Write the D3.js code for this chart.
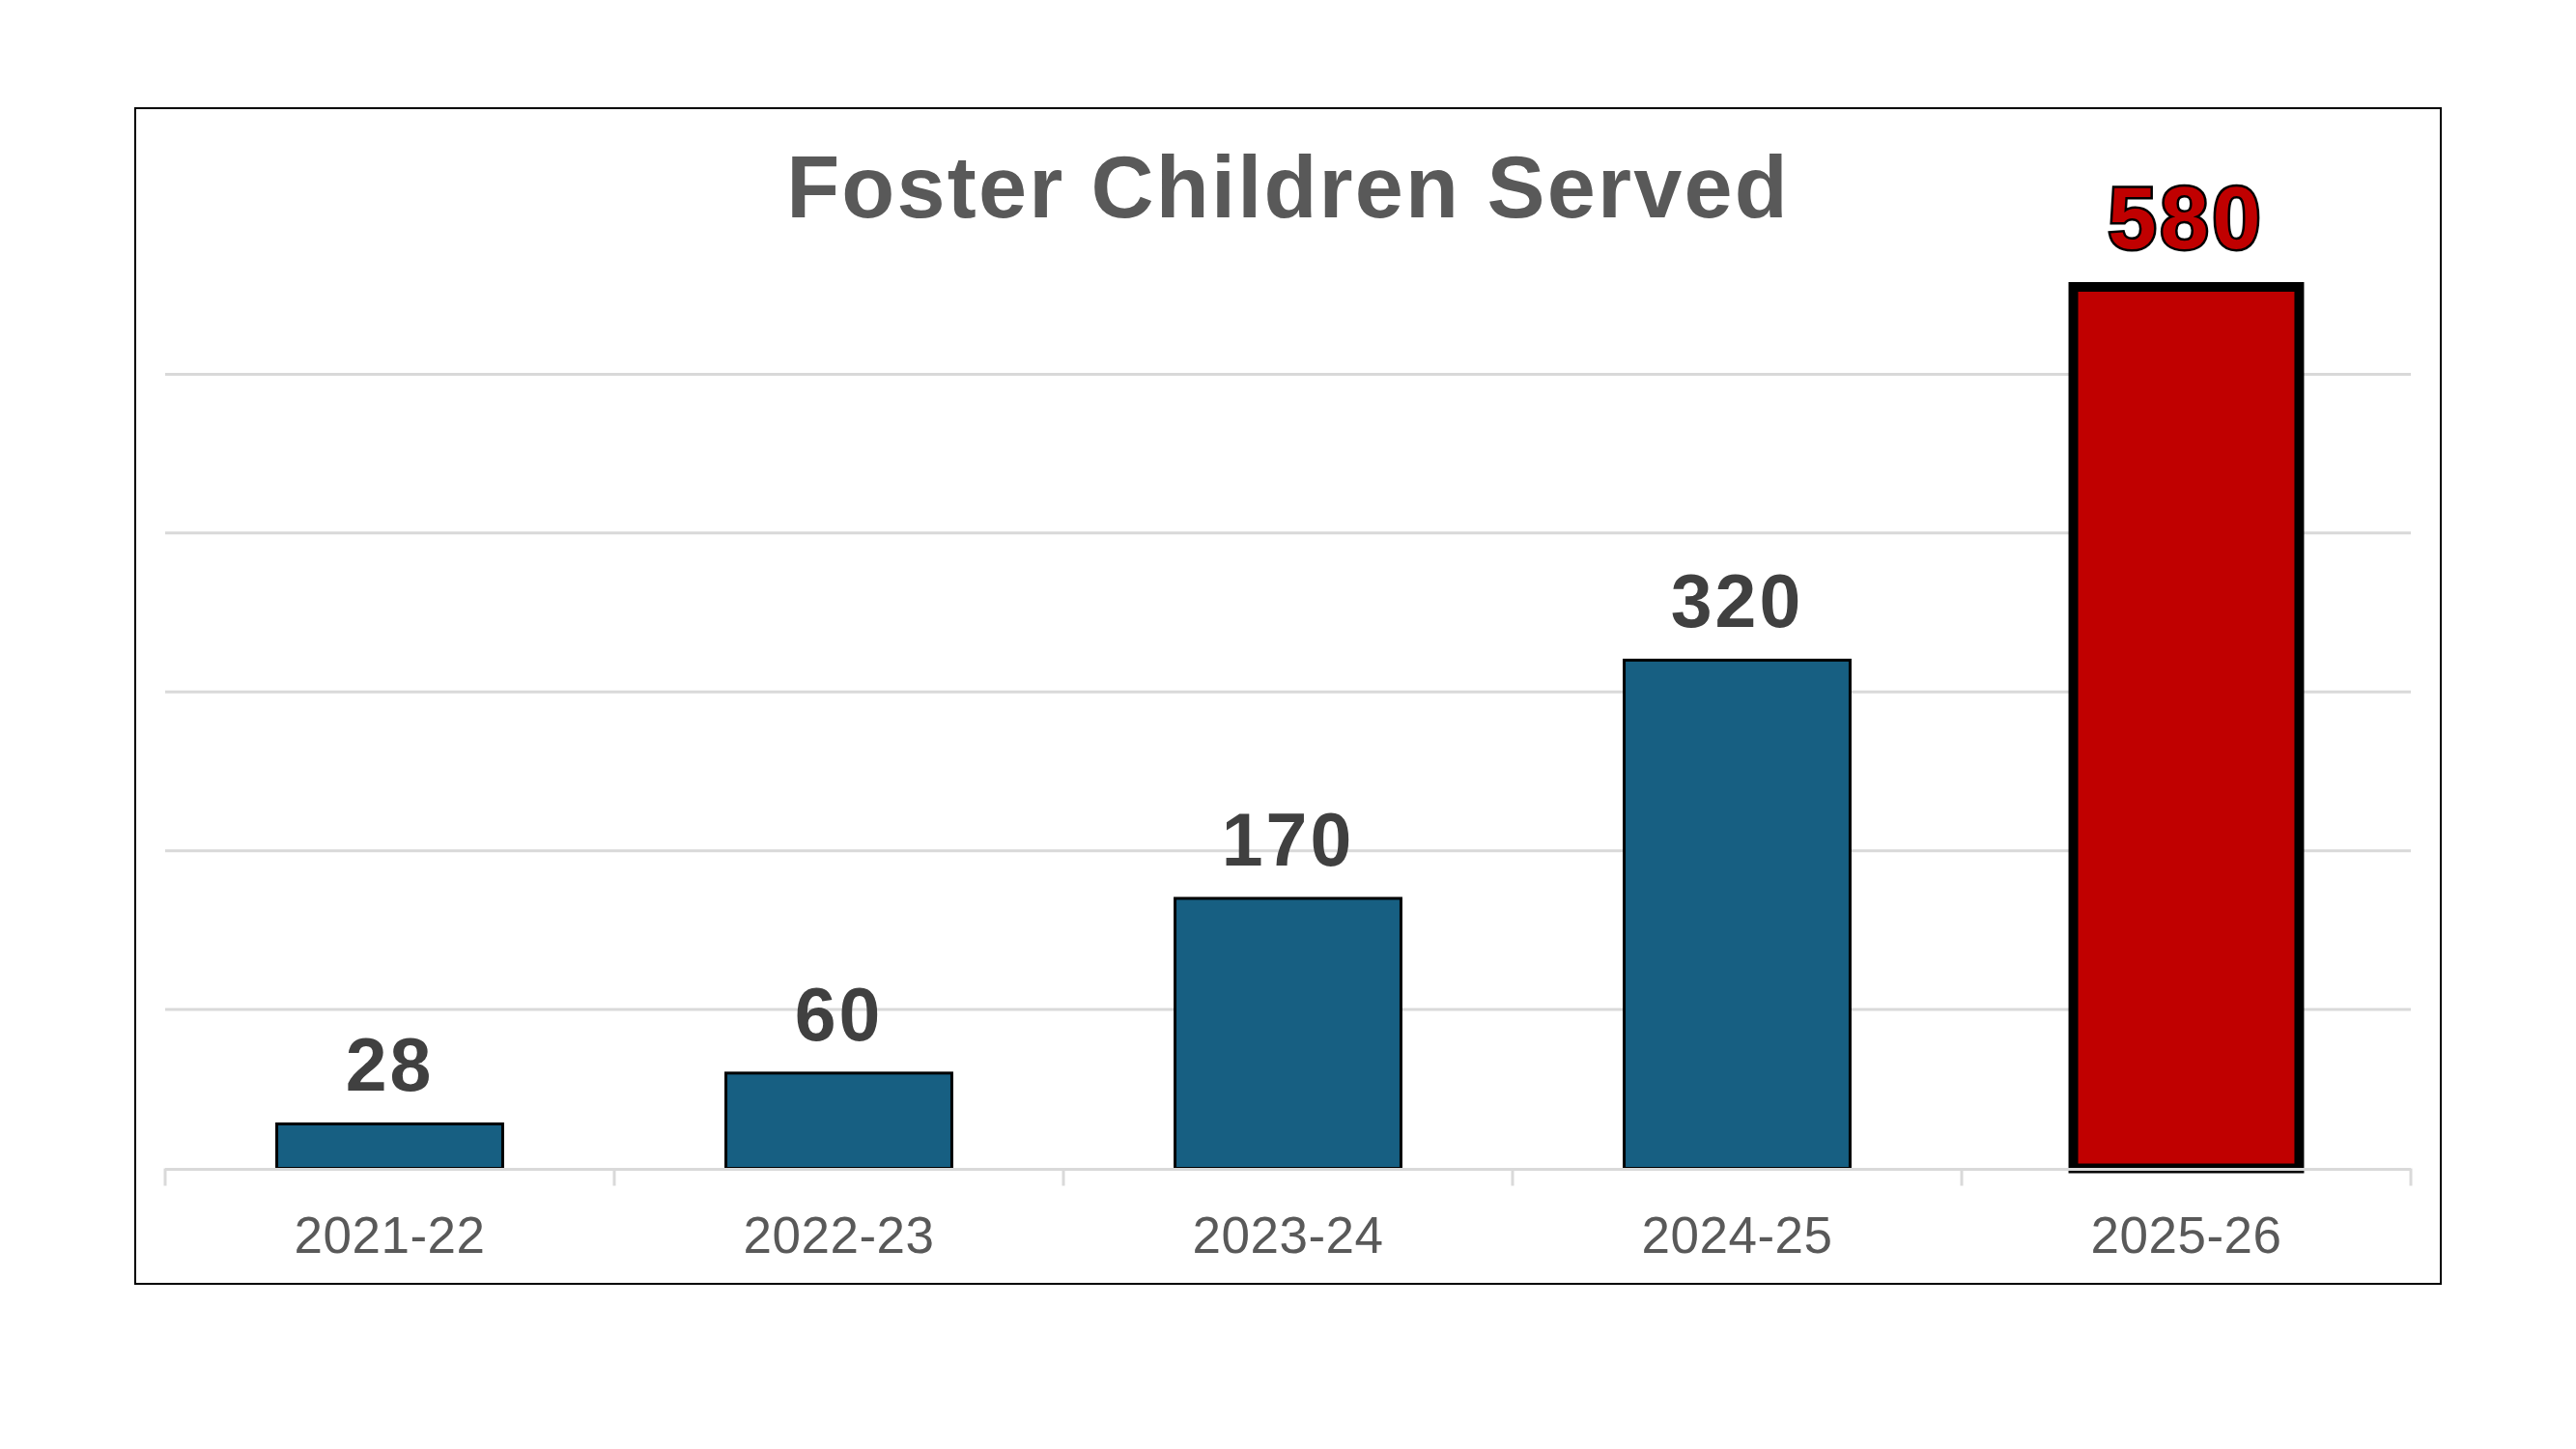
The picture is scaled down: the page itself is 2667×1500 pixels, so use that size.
<!DOCTYPE html>
<html>
<head>
<meta charset="utf-8">
<script src="https://cdn.jsdelivr.net/npm/d3@7"></script>
<style>
	html, body { margin: 0; padding: 0; background: #fff; }
	svg { display: block; }
</style>
</head>
<body>
<svg id="chart"></svg>
<script>
// data
var years = ["2021-22", "2022-23", "2023-24", "2024-25", "2025-26"];
var served = [28, 60, 170, 320, 580];
var gridValues = [100, 200, 300, 400, 500];
// the last bar runs past the axis max and is clipped at the top
var axisMax = 555;
var highlight = "2025-26";

var W = 2667, H = 1500;
var frame = {left: 140, top: 112, right: 2527, bottom: 1329};
var plot = {left: 171, right: 2496, top: 297, bottom: 1209.5};

var svg = d3.select("#chart")
	.attr("width", W)
	.attr("height", H);

svg.append("rect")
	.attr("x", frame.left)
	.attr("y", frame.top)
	.attr("width", frame.right - frame.left)
	.attr("height", frame.bottom - frame.top)
	.attr("fill", "#fff")
	.attr("stroke", "#000")
	.attr("stroke-width", 2);

var records = years.map(function(y, i) {
	return {year: y, value: served[i]};
});

var x = d3.scaleBand()
	.domain(years)
	.range([plot.left, plot.right])
	.paddingInner(0.497)
	.paddingOuter(0.2485);

var y = d3.scaleLinear()
	.domain([0, axisMax])
	.range([plot.bottom, plot.top])
	.clamp(true);

// gridlines
svg.append("g")
	.selectAll("line")
	.data(gridValues)
	.enter().append("line")
	.attr("x1", plot.left)
	.attr("x2", plot.right)
	.attr("y1", function(d) { return y(d); })
	.attr("y2", function(d) { return y(d); })
	.attr("stroke", "#d9d9d9")
	.attr("stroke-width", 3);

// bars
svg.append("g")
	.selectAll("rect")
	.data(records)
	.enter().append("rect")
	.attr("x", function(d) { return x(d.year); })
	.attr("y", function(d) { return y(d.value); })
	.attr("width", x.bandwidth())
	.attr("height", function(d) { return y(0) - y(d.value); })
	.attr("fill", function(d) { return d.year == highlight ? "#c00000" : "#175f82"; })
	.attr("stroke", "#000")
	.attr("stroke-width", function(d) { return d.year == highlight ? 10 : 3; });

// category axis: baseline, ticks between bands, labels
var step = x.step();
var axis = svg.append("g");
axis.append("line")
	.attr("x1", plot.left)
	.attr("x2", plot.right)
	.attr("y1", y(0) + 1)
	.attr("y2", y(0) + 1)
	.attr("stroke", "#d9d9d9")
	.attr("stroke-width", 3);

var tickPos = years.map(function(d) { return x(d) + x.bandwidth() / 2 - step / 2; });
tickPos.push(plot.right);
axis.selectAll(".tick")
	.data(tickPos)
	.enter().append("line")
	.attr("class", "tick")
	.attr("x1", function(d) { return d; })
	.attr("x2", function(d) { return d; })
	.attr("y1", y(0))
	.attr("y2", y(0) + 18)
	.attr("stroke", "#d9d9d9")
	.attr("stroke-width", 3);

axis.selectAll(".cat")
	.data(years)
	.enter().append("text")
	.attr("class", "cat")
	.attr("x", function(d) { return x(d) + x.bandwidth() / 2; })
	.attr("y", 1297)
	.attr("text-anchor", "middle")
	.attr("font-family", "Liberation Sans, Arial, sans-serif")
	.attr("font-size", 53)
	.attr("letter-spacing", 0.5)
	.attr("fill", "#595959")
	.text(function(d) { return d; });

// data labels
svg.append("g")
	.selectAll("text")
	.data(records)
	.enter().append("text")
	.attr("x", function(d) { return x(d.year) + x.bandwidth() / 2; })
	.attr("y", function(d) { return d.year == highlight ? y(d.value) - 40 : y(d.value) - 34; })
	.attr("text-anchor", "middle")
	.attr("font-family", "Liberation Sans, Arial, sans-serif")
	.attr("font-weight", "bold")
	.attr("font-size", function(d) { return d.year == highlight ? 90 : 77; })
	.attr("letter-spacing", function(d) { return d.year == highlight ? 4 : 3; })
	.attr("fill", function(d) { return d.year == highlight ? "#c00000" : "#404040"; })
	.attr("stroke", function(d) { return d.year == highlight ? "#000" : "none"; })
	.attr("stroke-width", 5)
	.attr("paint-order", "stroke")
	.text(function(d) { return d.value; });

// title
svg.append("text")
	.attr("x", (frame.left + frame.right) / 2)
	.attr("y", 225)
	.attr("text-anchor", "middle")
	.attr("font-family", "Liberation Sans, Arial, sans-serif")
	.attr("font-weight", "bold")
	.attr("font-size", 90)
	.attr("letter-spacing", 2.2)
	.attr("fill", "#595959")
	.text("Foster Children Served");
</script>
</body>
</html>
